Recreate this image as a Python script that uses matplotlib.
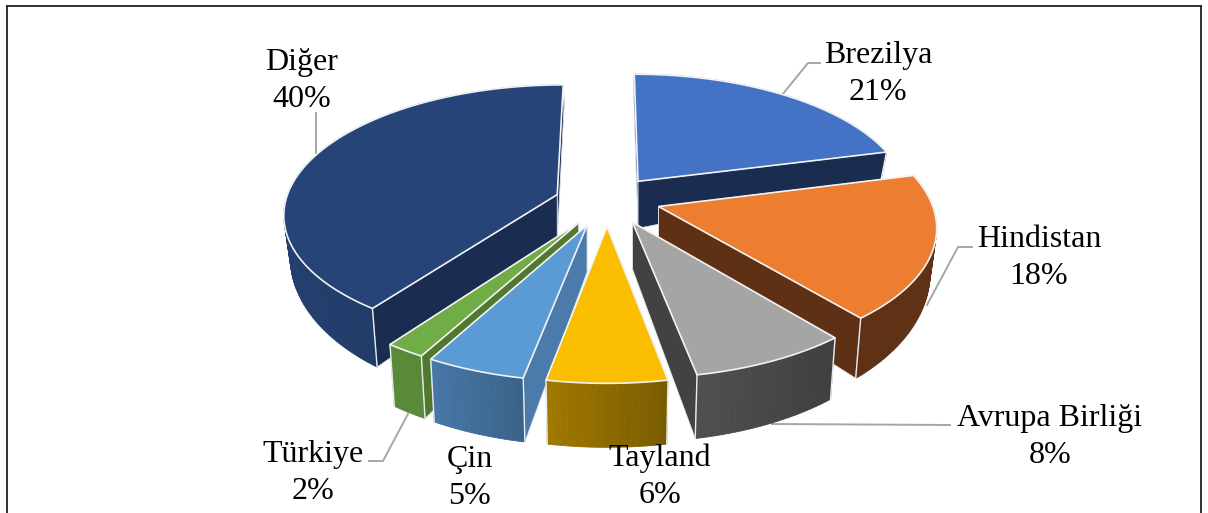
import matplotlib
matplotlib.use('Agg')
import matplotlib.pyplot as plt
from matplotlib.patches import Polygon
import numpy as np
from matplotlib.colors import to_rgb

# data
names = ['Brezilya', 'Hindistan', 'Avrupa Birliği', 'Tayland', 'Çin', 'Türkiye', 'Diğer']
shares = [21, 18, 8, 6, 5, 2, 40]

# colours: top, radial wall, outer side left end, outer side right end
top_cols = ['#4472c4', '#ed7d31', '#a5a5a5', '#fbbd00', '#5b9bd5', '#70ad47', '#264478']
wall_cols = ['#1a2c4f', '#5f3114', '#424242', '#7a5c00', '#4a7bab', '#50782f', '#1a2c4f']
side_left = ['#1a2c4f', '#5f3114', '#505050', '#a37a00', '#4878a8', '#5a8a38', '#233f6e']
side_right = ['#1a2c4f', '#5f3114', '#404040', '#7a5c00', '#3a6389', '#5a8a38', '#1e355f']

# where the label centres and leader lines go, in pixels of the picture
label_pos = [(878, 74), (1039, 258), (1050, 437), (660, 477), (470, 478), (313, 473), (302, 81)]
leaders = [[(782, 95), (808, 63), (820, 63)],
           [(927, 305), (958, 247), (972, 247)],
           [(772, 424), (950, 425)],
           None, None,
           [(408, 414), (383, 461), (369, 461)],
           [(316, 153), (316, 113)]]

# fake 3d pie
cx, cy = 607, 202
R0, Ry0 = 272, 127
k = 0.14
explode = 0.19
apex_depth = 47
# small pixel corrections per slice, the original is not a clean projection
nudge = [(0, -2), (2, -3), (3, -2), (0, 0), (-2, 0), (0, 0), (-1, 0)]


def project(u, v):
    s = 1 / (1 + k * v)
    return cx + R0 * u * s, cy - Ry0 * v * s


def drop(p):
    # lower face of the pie, depth grows toward the viewer
    h = np.interp(p[1], [85, 150, 190, 233, 316, 380], [22, 28, 36, 45, 60, 64])
    return cx + (p[0] - cx) * 0.98, p[1] + h


fig = plt.figure(figsize=(12.08, 5.13), dpi=100)
ax = fig.add_axes([0, 0, 1, 1])
ax.set_xlim(0, 1208)
ax.set_ylim(513, 0)
ax.axis('off')

# frame, open at the bottom
ax.plot([7, 7], [513, 6], color='#222222', lw=1.3)
ax.plot([7, 1201], [6, 6], color='#222222', lw=1.3)
ax.plot([1201, 1201], [6, 513], color='#222222', lw=1.3)

# leader lines first, the slices sit on top of them
for line in leaders:
    if line:
        ax.plot([p[0] for p in line], [p[1] for p in line], color='#a6a6a6', lw=1.4, zorder=1)

# slice angles clockwise from 12 o'clock
edges = np.cumsum([0] + shares) * 3.6

# far slices first
order = [0, 6, 1, 2, 5, 4, 3]
z = 2
for i in order:
    a0, a1 = np.radians(edges[i]), np.radians(edges[i + 1])
    mid = (a0 + a1) / 2
    ox, oy = explode * np.sin(mid), explode * np.cos(mid)
    nx, ny = nudge[i]
    apex = project(ox, oy)
    apex = (apex[0] + nx, apex[1] + ny)
    apex_low = (apex[0], apex[1] + apex_depth)
    th = np.linspace(a0, a1, max(int(shares[i] * 3), 12))
    rim = [project(ox + np.sin(t), oy + np.cos(t)) for t in th]
    rim = [(p[0] + nx, p[1] + ny) for p in rim]
    low = [drop(p) for p in rim]

    # radial walls, the nearer one last so it hides the other
    for p in sorted((rim[0], rim[-1]), key=lambda q: q[1]):
        ax.add_patch(Polygon([apex, p, drop(p), apex_low], closed=True, fc=wall_cols[i],
                             ec='#dfe5ee', lw=0.6, zorder=z))
        z += 1

    # outer side, shaded piece by piece left to right
    c0, c1 = np.array(to_rgb(side_left[i])), np.array(to_rgb(side_right[i]))
    xs = np.array([p[0] for p in rim])
    for j in range(len(rim) - 1):
        f = (xs[j] - xs.min()) / max(xs.max() - xs.min(), 1)
        col = c0 + (c1 - c0) * f
        ax.add_patch(Polygon([rim[j], rim[j + 1], low[j + 1], low[j]], closed=True, fc=col,
                             ec=col, lw=0.6, zorder=z))
    z += 1

    # white edge lines at the corners of the outer side
    for p in (rim[0], rim[-1]):
        q = drop(p)
        ax.plot([p[0], q[0]], [p[1], q[1]], color='#e8ecf2', lw=1.0, zorder=z)
    z += 1

    ax.add_patch(Polygon([apex] + rim, closed=True, fc=top_cols[i], ec='#f2f2f2', lw=1.2, zorder=z))
    z += 1

# labels
for name, share, pos in zip(names, shares, label_pos):
    ax.text(pos[0], pos[1], f'{name}\n{share}%', ha='center', va='center', ma='center',
            family='Liberation Serif', fontsize=23, color='black', linespacing=1.38, zorder=z)

fig.savefig('out.png', dpi=100)
